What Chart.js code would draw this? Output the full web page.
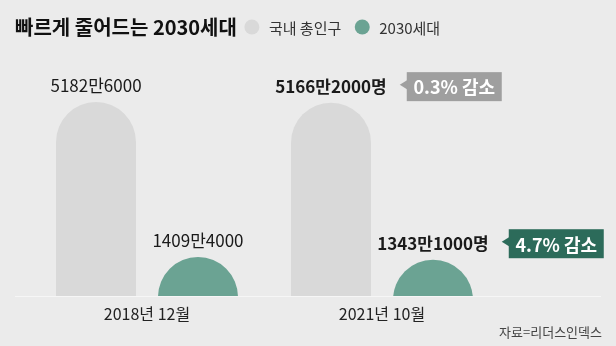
<!DOCTYPE html>
<html>
<head>
<meta charset="utf-8">
<script src="https://cdn.jsdelivr.net/npm/chart.js@4"></script>
<style>
  html, body { margin: 0; padding: 0; background: #ebebeb; }
</style>
</head>
<body>
<canvas id="myChart" width="616" height="346"></canvas>
<script>
// data (population in 만명)
const periods = ['2018년 12월', '2021년 10월'];
const seriesNames = ['국내 총인구', '2030세대'];
const totalPop = [5182.6, 5166.2];
const youthPop = [1409.4, 1343.1];
const totalLabels = ['5182만6000', '5166만2000명'];
const youthLabels = ['1409만4000', '1343만1000명'];
const changeLabels = ['0.3% 감소', '4.7% 감소'];

const FONT = "'Noto Sans CJK KR', 'Noto Sans', sans-serif";
const GRAY = '#d9d9d9';
const TEAL = '#6ba393';
const boxColors = ['#9f9f9f', '#2c6b5a'];

const overlay = {
    id: 'overlay',
    afterDraw(chart) {
        const c = chart.ctx;
        c.save();
        c.textBaseline = 'middle';

        // title
        c.fillStyle = '#111';
        c.font = 'bold 20px ' + FONT;
        c.textAlign = 'left';
        c.fillText('빠르게 줄어드는 2030세대', 15, 27);
        let x = 15 + c.measureText('빠르게 줄어드는 2030세대').width + 15;

        // legend
        c.font = '15px ' + FONT;
        [GRAY, TEAL].forEach((col, i) => {
            c.fillStyle = col;
            c.beginPath();
            c.arc(x, 27, 7.5, 0, Math.PI * 2);
            c.fill();
            c.fillStyle = '#333';
            c.fillText(seriesNames[i], x + 17, 28);
            x += 17 + c.measureText(seriesNames[i]).width + 21;
        });

        // baseline
        c.strokeStyle = '#f6f6f6';
        c.lineWidth = 1;
        c.beginPath();
        c.moveTo(15, 296.5);
        c.lineTo(601, 296.5);
        c.stroke();

        // value labels + callouts
        const labelSets = [totalLabels, youthLabels];
        chart.data.datasets.forEach((ds, d) => {
            const meta = chart.getDatasetMeta(d);
            meta.data.forEach((bar, i) => {
                const bold = i === periods.length - 1;
                c.font = (bold ? 'bold ' : '') + '17px ' + FONT;
                c.fillStyle = '#1a1a1a';
                c.textAlign = 'center';
                const ly = bar.y - 16;
                c.fillText(labelSets[d][i], bar.x, ly);
                if (!bold) return;
                const w = c.measureText(labelSets[d][i]).width;
                const tip = bar.x + w / 2 + 13;
                const bx = tip + 7, bw = 95, bh = 29;
                c.fillStyle = boxColors[d];
                c.fillRect(bx, ly - bh / 2, bw, bh);
                c.beginPath();
                c.moveTo(tip, ly - 2);
                c.lineTo(bx + 1, ly - 7);
                c.lineTo(bx + 1, ly + 3);
                c.closePath();
                c.fill();
                c.fillStyle = '#fff';
                c.font = 'bold 18px ' + FONT;
                c.fillText(changeLabels[d], bx + bw / 2, ly + 1);
            });
        });

        // source
        c.font = '13px ' + FONT;
        c.fillStyle = '#444';
        c.textAlign = 'right';
        c.fillText('자료=리더스인덱스', 602, 332);
        c.restore();
    }
};

new Chart(document.getElementById('myChart'), {
    type: 'bar',
    data: {
        labels: periods,
        datasets: [{
            label: seriesNames[0],
            data: totalPop,
            backgroundColor: GRAY,
            borderRadius: { topLeft: 40, topRight: 40 },
            base: -3000,
            clip: 0,
            categoryPercentage: 0.868,
            barPercentage: 0.784
        }, {
            label: seriesNames[1],
            data: youthPop,
            backgroundColor: TEAL,
            borderRadius: { topLeft: 40, topRight: 40 },
            base: -3000,
            clip: 0,
            categoryPercentage: 0.868,
            barPercentage: 0.784
        }]
    },
    options: {
        responsive: false,
        animation: false,
        devicePixelRatio: 1,
        layout: { padding: { top: 68.4, left: 29.5, right: 116.5, bottom: 14.8 } },
        plugins: {
            legend: { display: false },
            title: { display: false },
            tooltip: { enabled: false }
        },
        scales: {
            x: {
                grid: { display: false, drawTicks: false },
                border: { display: false },
                ticks: { color: '#222', font: { size: 16, family: FONT }, padding: 8 }
            },
            y: { display: false, min: 460, max: 6000 }
        }
    },
    plugins: [overlay]
});
</script>
</body>
</html>
